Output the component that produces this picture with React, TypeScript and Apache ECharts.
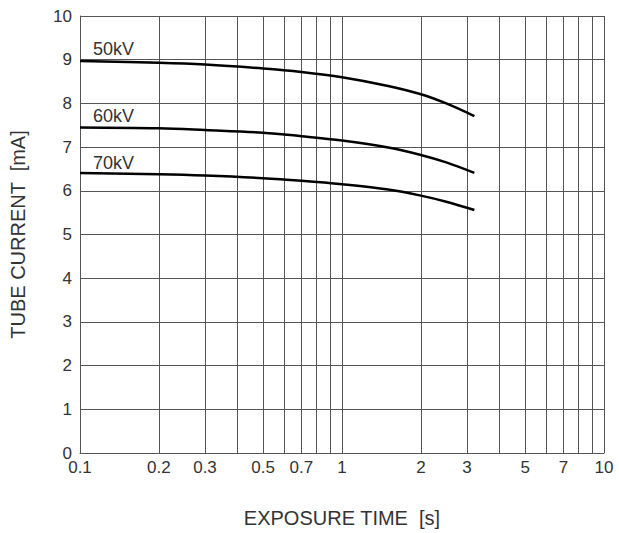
import React, { useEffect, useRef } from "react";
import * as echarts from "echarts";

const exposureTimes = [0.1, 0.2, 0.3, 0.5, 0.7, 1, 1.5, 2, 2.5, 3.2];
const current50kV = [8.97, 8.93, 8.89, 8.8, 8.72, 8.6, 8.4, 8.21, 8.0, 7.71];
const current60kV = [7.45, 7.43, 7.39, 7.33, 7.25, 7.15, 6.99, 6.82, 6.65, 6.41];
const current70kV = [6.41, 6.38, 6.35, 6.29, 6.23, 6.15, 6.03, 5.89, 5.75, 5.56];
const seriesNames = ["50kV", "60kV", "70kV"];
const xGridValues = [0.1, 0.2, 0.3, 0.4, 0.5, 0.6, 0.7, 0.8, 0.9, 1, 2, 3, 4, 5, 6, 7, 8, 9, 10];
const xTickLabels = [0.1, 0.2, 0.3, 0.5, 0.7, 1, 2, 3, 5, 7, 10];

const FONT = "'Liberation Sans', Arial, sans-serif";
const GRID = "#555";
const TEXT = "#333";

export default function App() {
  const ref = useRef<HTMLDivElement>(null);
  useEffect(() => {
    document.body.style.margin = "0";
    const chart = echarts.init(ref.current!, null, { renderer: "svg" });
    const all = [current50kV, current60kV, current70kV];
    const labelY = [50, 116.5, 163.5];
    chart.setOption({
      animation: false,
      backgroundColor: "#fff",
      grid: { left: 80, top: 16, right: 15, bottom: 80 },
      xAxis: {
        type: "log",
        logBase: 10,
        min: 0.1,
        max: 10,
        name: "EXPOSURE TIME  [s]",
        nameLocation: "middle",
        nameGap: 55,
        nameTextStyle: { fontFamily: FONT, fontSize: 20, color: TEXT },
        axisLine: { show: true, lineStyle: { color: GRID, width: 1 } },
        axisTick: { show: false, customValues: xGridValues },
        axisLabel: {
          customValues: xTickLabels,
          fontFamily: FONT,
          fontSize: 17,
          color: TEXT,
          margin: 6,
          formatter: (v: number) => String(Number(v.toPrecision(3))),
        },
        splitLine: { show: true, lineStyle: { color: GRID, width: 1 } },
        minorTick: { show: false },
      },
      yAxis: {
        type: "value",
        min: 0,
        max: 10,
        interval: 1,
        name: "TUBE CURRENT  [mA]",
        nameLocation: "middle",
        nameGap: 52,
        nameTextStyle: { fontFamily: FONT, fontSize: 20, color: TEXT },
        axisLine: { show: true, lineStyle: { color: GRID, width: 1 } },
        axisTick: { show: false },
        axisLabel: { fontFamily: FONT, fontSize: 17, color: TEXT, margin: 8 },
        splitLine: { show: true, lineStyle: { color: GRID, width: 1 } },
      },
      graphic: seriesNames.map((n, i) => ({
        type: "text",
        left: 93,
        top: labelY[i] - 10,
        style: { text: n, fontFamily: FONT, fontSize: 18, fill: TEXT },
      })),
      series: all.map((vals, i) => ({
        type: "line",
        name: seriesNames[i],
        data: exposureTimes.map((t, j) => [t, vals[j]]),
        smooth: 0.35,
        showSymbol: false,
        lineStyle: { color: "#000", width: 2.5 },
      })),
    });
    return () => chart.dispose();
  }, []);
  return (
    <div
      ref={ref}
      style={{ position: "absolute", left: 0, top: 0, width: 619, height: 533 }}
    />
  );
}
